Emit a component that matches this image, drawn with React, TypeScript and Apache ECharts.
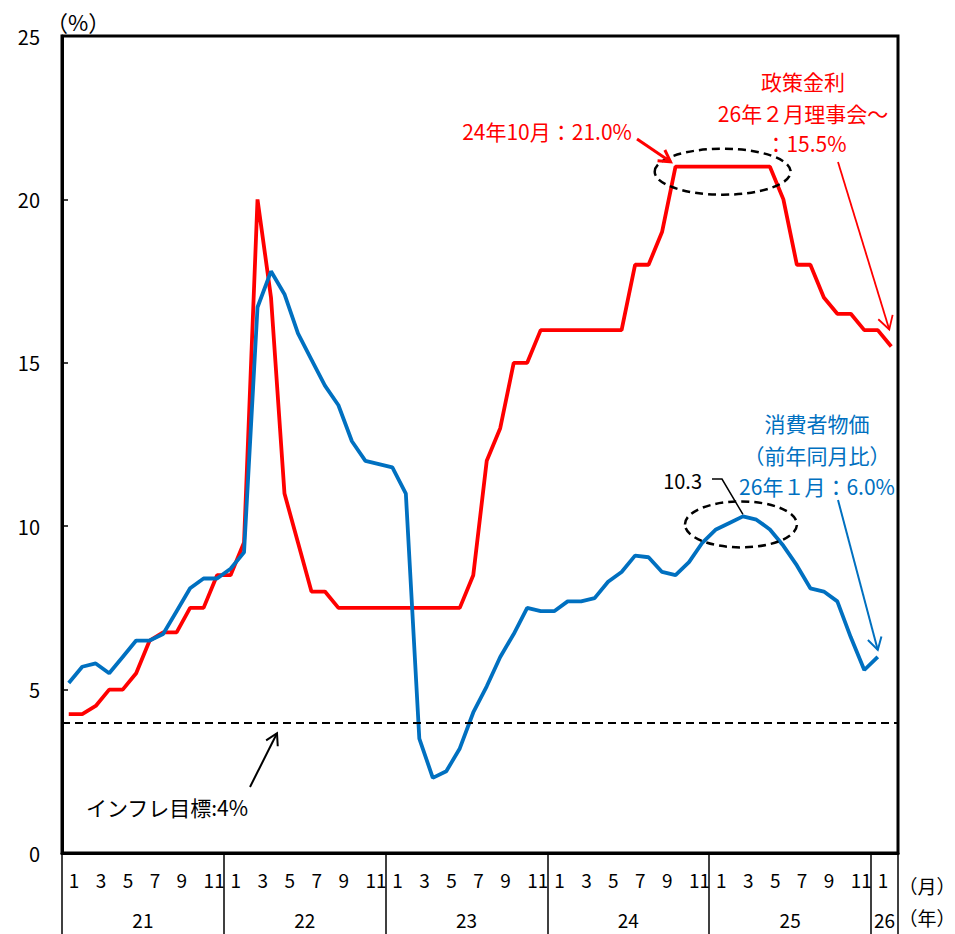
import React, { useEffect, useRef } from "react";
import * as echarts from "echarts";

// Month axis: Jan 2021 .. Feb 2026
const years = [2021, 2022, 2023, 2024, 2025, 2026];
const monthsInYear = [12, 12, 12, 12, 12, 2];
const categories: string[] = [];
years.forEach((y, k) => {
  for (let m = 1; m <= monthsInYear[k]; m++) categories.push(`${y}-${m}`);
});

// Year label positions on the month scale (centre of each year band) and their texts
const yearLabelPos = [6, 18, 30, 42, 54, 61];
const yearLabelText = ["21", "22", "23", "24", "25", "26"];
// Year separators on the month scale
const yearBounds = [0, 12, 24, 36, 48, 60, 62];

// Policy rate (%), month end
const policyRate = [
  4.25, 4.25, 4.5, 5.0, 5.0, 5.5, 6.5, 6.75, 6.75, 7.5, 7.5, 8.5,
  8.5, 9.5, 20, 17, 11, 9.5, 8, 8, 7.5, 7.5, 7.5, 7.5,
  7.5, 7.5, 7.5, 7.5, 7.5, 7.5, 8.5, 12, 13, 15, 15, 16,
  16, 16, 16, 16, 16, 16, 18, 18, 19, 21, 21, 21,
  21, 21, 21, 21, 21, 20, 18, 18, 17, 16.5, 16.5, 16,
  16, 15.5,
];

// Consumer prices, year-on-year (%)
const cpi: (number | null)[] = [
  5.2, 5.7, 5.8, 5.5, 6.0, 6.5, 6.5, 6.7, 7.4, 8.1, 8.4, 8.4,
  8.7, 9.2, 16.7, 17.8, 17.1, 15.9, 15.1, 14.3, 13.7, 12.6, 12.0, 11.9,
  11.8, 11.0, 3.5, 2.3, 2.5, 3.2, 4.3, 5.1, 6.0, 6.7, 7.5, 7.4,
  7.4, 7.7, 7.7, 7.8, 8.3, 8.6, 9.1, 9.05, 8.6, 8.5, 8.9, 9.5,
  9.9, 10.1, 10.3, 10.2, 9.9, 9.4, 8.8, 8.1, 8.0, 7.7, 6.6, 5.6,
  6.0, null,
];

const inflationTarget = 4;

const FONT = '"Noto Sans CJK JP", "Noto Sans", sans-serif';
const RED = "#FF0000";
const BLUE = "#0070C0";

function arrowHead(x1: number, y1: number, x2: number, y2: number, len: number, deg: number) {
  const a = Math.atan2(y2 - y1, x2 - x1);
  const phi = (deg * Math.PI) / 180;
  return [
    [x2 - len * Math.cos(a - phi), y2 - len * Math.sin(a - phi)],
    [x2, y2],
    [x2 - len * Math.cos(a + phi), y2 - len * Math.sin(a + phi)],
  ];
}

function arrow(x1: number, y1: number, x2: number, y2: number, color: string, width: number, len: number) {
  return [
    { type: "line", shape: { x1, y1, x2, y2 }, style: { stroke: color, lineWidth: width }, z: 10 },
    {
      type: "polyline",
      shape: { points: arrowHead(x1, y1, x2, y2, len, 30) },
      style: { stroke: color, lineWidth: width, fill: null },
      z: 10,
    },
  ];
}

function label(text: string, x: number, y: number, color: string, size: number, align = "center") {
  return {
    type: "text",
    x,
    y,
    z: 10,
    style: {
      text,
      fill: color,
      font: `${size}px ${FONT}`,
      textAlign: align,
      textVerticalAlign: "middle",
    },
  };
}

export default function App() {
  const ref = useRef<HTMLDivElement>(null);

  useEffect(() => {
    document.body.style.margin = "0";
    if (!ref.current) return;
    const chart = echarts.init(ref.current, undefined, { renderer: "svg" });

    chart.setOption({
      animation: false,
      backgroundColor: "#fff",
      textStyle: { fontFamily: FONT },
      grid: {
        left: 62,
        right: 57,
        top: 36,
        bottom: 81,
        show: true,
        borderColor: "#000",
        borderWidth: 3,
      },
      xAxis: [
        {
          type: "category",
          data: categories,
          boundaryGap: true,
          axisLine: { show: true, lineStyle: { color: "#000", width: 3 } },
          axisTick: { show: false },
          axisLabel: {
            interval: (idx: number) => idx % 2 === 0,
            formatter: (v: string) => v.split("-")[1],
            align: "left",
            margin: 17,
            color: "#000",
            fontSize: 19,
            fontFamily: FONT,
          },
          splitLine: { show: false },
        },
        {
          type: "value",
          min: 0,
          max: 62,
          position: "bottom",
          axisLine: { show: false },
          axisTick: {
            show: true,
            customValues: yearBounds,
            length: 81,
            inside: false,
            lineStyle: { color: "#000", width: 1.5 },
          },
          axisLabel: {
            customValues: yearLabelPos,
            formatter: (v: number) => yearLabelText[yearLabelPos.indexOf(v)] ?? "",
            margin: 57,
            color: "#000",
            fontSize: 19,
            fontFamily: FONT,
          },
          splitLine: { show: false },
        },
      ],
      yAxis: {
        type: "value",
        min: 0,
        max: 25,
        interval: 5,
        axisLine: { show: true, lineStyle: { color: "#000", width: 3 } },
        axisTick: { show: true, inside: true, length: 6, lineStyle: { color: "#000", width: 1.5 } },
        axisLabel: { color: "#000", fontSize: 20, margin: 22, fontFamily: FONT },
        splitLine: { show: false },
      },
      series: [
        {
          name: "政策金利",
          type: "line",
          data: policyRate,
          symbol: "none",
          lineStyle: { color: RED, width: 3.8 },
          z: 3,
          markLine: {
            silent: true,
            symbol: ["none", "none"],
            label: { show: false },
            lineStyle: { color: "#000", type: [8, 5], width: 2 },
            data: [{ yAxis: inflationTarget }],
          },
        },
        {
          name: "消費者物価",
          type: "line",
          data: cpi,
          symbol: "none",
          connectNulls: false,
          lineStyle: { color: BLUE, width: 3.8 },
          z: 4,
        },
      ],
    });

    const p = (i: number, v: number) =>
      chart.convertToPixel({ xAxisIndex: 0, yAxisIndex: 0 }, [i, v]) as number[];

    // anchors on the data
    const rateTopStart = p(45, 21);
    const rateTopEnd = p(52, 21);
    const rateLast = p(61, 15.5);
    const cpiPeak = p(50, 10.3);
    const cpiLast = p(60, 6.0);
    const target = p(15, inflationTarget);

    const dashed = { stroke: "#000", lineWidth: 2.5, lineDash: [8, 5], fill: null };

    const graphic: any[] = [
      // unit of the value axis
      label("（%）", 78, 21, "#000", 22),

      // policy rate plateau
      {
        type: "ellipse",
        shape: { cx: (rateTopStart[0] + rateTopEnd[0]) / 2, cy: rateTopStart[1] + 5, rx: 68, ry: 23 },
        style: dashed,
        z: 9,
      },
      label("24年10月：21.0%", 547, 131, RED, 21),
      ...arrow(637, 139, rateTopStart[0] - 5, rateTopStart[1] - 5, RED, 3, 13),
      label("政策金利", 803, 81, RED, 21),
      label("26年２月理事会～", 803, 113, RED, 21),
      label("：15.5%", 806, 143, RED, 21),
      ...arrow(838, 162, rateLast[0] - 2, rateLast[1] - 17, RED, 1.8, 15),

      // CPI peak
      {
        type: "ellipse",
        shape: { cx: cpiPeak[0] - 2, cy: cpiPeak[1] + 8, rx: 56, ry: 23 },
        style: dashed,
        z: 9,
      },
      label("10.3", 702, 480, "#000", 20, "right"),
      {
        type: "polyline",
        shape: { points: [[712, 479], [722, 479], [cpiPeak[0], cpiPeak[1] - 2]] },
        style: { stroke: "#000", lineWidth: 1.5, fill: null },
        z: 10,
      },
      label("消費者物価", 817, 423, BLUE, 21),
      label("（前年同月比）", 817, 455, BLUE, 21),
      label("26年１月：6.0%", 817, 486, BLUE, 21),
      ...arrow(838, 500, cpiLast[0], cpiLast[1] - 7, BLUE, 2, 14),

      // inflation target
      label("インフレ目標:4%", 167, 807, "#000", 21),
      ...arrow(250, 787, target[0] + 6, target[1] + 11, "#000", 2, 13),

      // axis unit captions
      label("（月）", 927, 885, "#000", 19),
      label("（年）", 927, 917, "#000", 19),
    ];

    chart.setOption({ graphic });

    return () => {
      chart.dispose();
    };
  }, []);

  return <div ref={ref} style={{ width: 955, height: 934 }} />;
}
